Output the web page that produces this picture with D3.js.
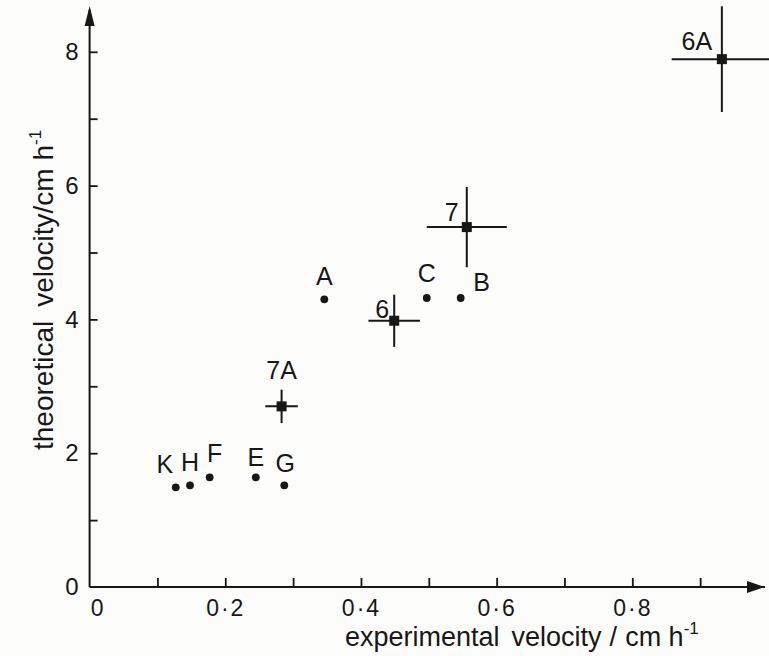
<!DOCTYPE html>
<html>
<head>
<meta charset="utf-8">
<script src="https://cdn.jsdelivr.net/npm/d3@7"></script>
<style>
  html, body { margin: 0; padding: 0; background: #fcfcfa; }
  svg { display: block; }
  text { font-family: "Liberation Sans", Arial, Helvetica, sans-serif; fill: #171717; }
</style>
</head>
<body>
<div id="chart"></div>
<script>
// plain points (no error bars)
const dotNames = ['K', 'H', 'F', 'E', 'G', 'A', 'C', 'B'];
const dotExp = [0.127, 0.148, 0.177, 0.245, 0.287, 0.346, 0.497, 0.547];
const dotTheo = [1.49, 1.52, 1.64, 1.64, 1.52, 4.30, 4.32, 4.32];

// points with error bars
const barNames = ['7A', '6', '7', '6A'];
const barExp = [0.283, 0.449, 0.556, 0.932];
const barTheo = [2.70, 3.98, 5.38, 7.89];
const barExpErr = [0.024, 0.038, 0.059, 0.074];
const barTheoErr = [0.25, 0.39, 0.60, 0.79];

// axes
const xMinorTicks = [0.1, 0.2, 0.3, 0.4, 0.5, 0.6, 0.7, 0.8, 0.9];
const xLabelTicks = [0, 0.2, 0.4, 0.6, 0.8];
const yMinorTicks = [1, 2, 3, 4, 5, 6, 7, 8];
const yLabelTicks = [0, 2, 4, 6, 8];

const W = 769, H = 656;
const ink = '#171717';

// label offsets from the mark (px)
const dotLabelOff = {
    K: [-11, -14], H: [0, -14], F: [5, -15], E: [0, -11],
    G: [1, -13], A: [0, -14], C: [0, -16], B: [21, -7]
};
const barLabelOff = { '7A': [0, -27], '6': [-12, -3], '7': [-15, -6], '6A': [-25, -9] };

const svg = d3.select('#chart').append('svg')
    .attr('width', W)
    .attr('height', H);

svg.append('rect').attr('width', W).attr('height', H).attr('fill', '#fcfcfa');

const x = d3.scaleLinear().domain([0, 1]).range([89.6, 768]);
const y = d3.scaleLinear().domain([0, 8]).range([587, 51.8]);

const x0 = x(0), y0 = y(0);
const fmt = d => d === 0 ? '0' : d3.format('.1f')(d).replace('.', '\u00b7');

// x axis: inward ticks, then labels
svg.append('g')
    .attr('transform', `translate(0,${y0})`)
    .call(d3.axisBottom(x).tickValues(xMinorTicks).tickSizeInner(-9).tickSizeOuter(0).tickFormat(''))
    .call(g => g.select('.domain').remove())
    .call(g => g.selectAll('line').attr('stroke', ink).attr('stroke-width', 1.8));

svg.append('g')
    .attr('transform', `translate(0,${y0})`)
    .call(d3.axisBottom(x).tickValues(xLabelTicks).tickSize(0).tickPadding(13).tickFormat(fmt))
    .call(g => g.select('.domain').remove())
    .call(g => g.selectAll('text')
        .attr('font-size', 23)
        .attr('letter-spacing', 2)
        .attr('fill', ink)
        .attr('font-family', null)
        .attr('dx', d => d === 0 ? 8 : 0));

// y axis
svg.append('g')
    .attr('transform', `translate(${x0},0)`)
    .call(d3.axisLeft(y).tickValues(yMinorTicks).tickSizeInner(-8).tickSizeOuter(0).tickFormat(''))
    .call(g => g.select('.domain').remove())
    .call(g => g.selectAll('line').attr('stroke', ink).attr('stroke-width', 1.8));

svg.append('g')
    .attr('transform', `translate(${x0},0)`)
    .call(d3.axisLeft(y).tickValues(yLabelTicks).tickSize(0).tickPadding(11).tickFormat(d3.format('d')))
    .call(g => g.select('.domain').remove())
    .call(g => g.selectAll('text')
        .attr('font-size', 24)
        .attr('fill', ink)
        .attr('font-family', null));

// axis lines with arrow heads
svg.append('line')
    .attr('x1', x0).attr('y1', y0).attr('x2', 765).attr('y2', y0)
    .attr('stroke', ink).attr('stroke-width', 2);
svg.append('line')
    .attr('x1', x0).attr('y1', y0).attr('x2', x0).attr('y2', 10)
    .attr('stroke', ink).attr('stroke-width', 2);

svg.append('path')
    .attr('d', `M765,${y0}L747,${y0 - 6}L747,${y0 + 6}Z`)
    .attr('fill', ink);
svg.append('path')
    .attr('d', `M${x0},6L${x0 - 5},26L${x0 + 5},26Z`)
    .attr('fill', ink);

// axis titles
const xTitle = svg.append('text')
    .attr('x', 345)
    .attr('y', 646)
    .attr('font-size', 27);
xTitle.append('tspan').text('experimental');
xTitle.append('tspan').attr('dx', 12).text('velocity');
xTitle.append('tspan').attr('dx', 8).text('/');
xTitle.append('tspan').attr('dx', 8).text('cm h');
xTitle.append('tspan').attr('dy', -12).attr('font-size', 17).text('-1');

const yTitle = svg.append('text')
    .attr('transform', 'translate(53,450) rotate(-90)')
    .attr('font-size', 28);
yTitle.append('tspan').text('theoretical');
yTitle.append('tspan').attr('dx', 14).text('velocity/cm h');
yTitle.append('tspan').attr('dy', -12).attr('font-size', 17).text('-1');

// error bars
const bars = barNames.map((n, i) => ({
    name: n, xv: barExp[i], yv: barTheo[i], xe: barExpErr[i], ye: barTheoErr[i]
}));

const barG = svg.append('g');
barG.selectAll('.hbar')
    .data(bars)
    .enter().append('line')
    .attr('x1', d => x(d.xv - d.xe)).attr('x2', d => x(d.xv + d.xe))
    .attr('y1', d => y(d.yv)).attr('y2', d => y(d.yv))
    .attr('stroke', ink).attr('stroke-width', 2);
barG.selectAll('.vbar')
    .data(bars)
    .enter().append('line')
    .attr('x1', d => x(d.xv)).attr('x2', d => x(d.xv))
    .attr('y1', d => y(d.yv - d.ye)).attr('y2', d => y(d.yv + d.ye))
    .attr('stroke', ink).attr('stroke-width', 2);
barG.selectAll('.sq')
    .data(bars)
    .enter().append('rect')
    .attr('x', d => x(d.xv) - 5).attr('y', d => y(d.yv) - 5)
    .attr('width', 10).attr('height', 10)
    .attr('fill', ink);
barG.selectAll('.blab')
    .data(bars)
    .enter().append('text')
    .attr('x', d => x(d.xv) + barLabelOff[d.name][0])
    .attr('y', d => y(d.yv) + barLabelOff[d.name][1])
    .attr('text-anchor', 'middle')
    .attr('font-size', 25)
    .text(d => d.name);

// dots
const dots = dotNames.map((n, i) => ({ name: n, xv: dotExp[i], yv: dotTheo[i] }));

svg.selectAll('.dot')
    .data(dots)
    .enter().append('circle')
    .attr('cx', d => x(d.xv))
    .attr('cy', d => y(d.yv))
    .attr('r', 3.9)
    .attr('fill', ink);

svg.selectAll('.dlab')
    .data(dots)
    .enter().append('text')
    .attr('x', d => x(d.xv) + dotLabelOff[d.name][0])
    .attr('y', d => y(d.yv) + dotLabelOff[d.name][1])
    .attr('text-anchor', 'middle')
    .attr('font-size', 25)
    .text(d => d.name);
</script>
</body>
</html>
